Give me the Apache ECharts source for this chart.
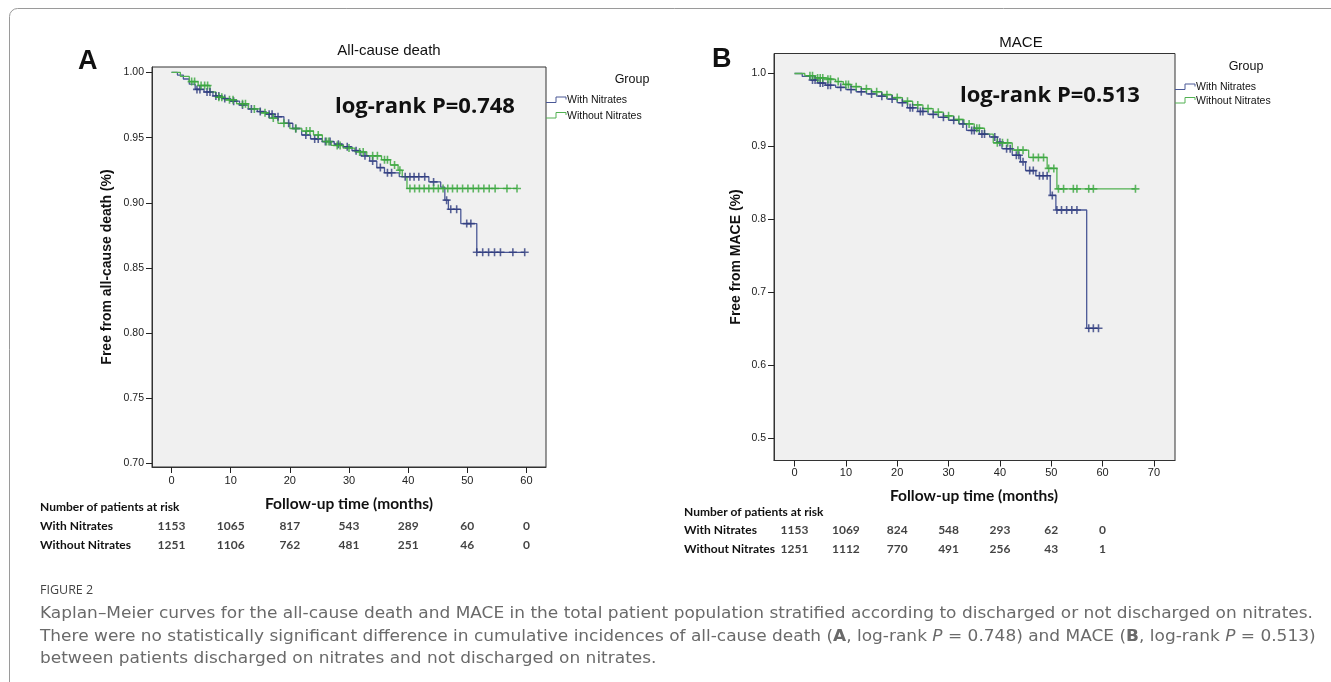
<!DOCTYPE html>
<html>
<head>
<meta charset="utf-8">
<script src="https://cdn.jsdelivr.net/npm/echarts@6/dist/echarts.min.js"></script>
<style>
html,body{margin:0;padding:0;background:#fff;}
#chart{width:1331px;height:682px;}
</style>
</head>
<body>
<div id="chart"></div>
<script>
// ---------- DATA ----------
const groups = ['With Nitrates', 'Without Nitrates'];
const xTicksA = [0, 10, 20, 30, 40, 50, 60];
const xTicksB = [0, 10, 20, 30, 40, 50, 60, 70];
const yTicksA = [0.70, 0.75, 0.80, 0.85, 0.90, 0.95, 1.00];
const yTicksB = [0.5, 0.6, 0.7, 0.8, 0.9, 1.0];
const riskTimes = [0, 10, 20, 30, 40, 50, 60];
const riskAWith = [1153, 1065, 817, 543, 289, 60, 0];
const riskAWithout = [1251, 1106, 762, 481, 251, 46, 0];
const riskBWith = [1153, 1069, 824, 548, 293, 62, 0];
const riskBWithout = [1251, 1112, 770, 491, 256, 43, 1];

// Panel A: all-cause death, [month, survival]
const aWithSteps = [[0,1.000],[1,0.998],[2,0.995],[3,0.991],[4,0.987],[5.5,0.985],[7,0.982],[8.5,0.980],[10,0.978],[11.5,0.975],[13,0.972],[14.5,0.970],[16,0.968],[17.5,0.966],[19,0.961],[20.5,0.957],[22,0.952],[23.5,0.949],[25.5,0.947],[27.5,0.945],[29,0.943],[30.5,0.940],[32,0.936],[33.5,0.932],[34.7,0.927],[36,0.923],[38.5,0.920],[43.5,0.916],[45.5,0.912],[46.2,0.902],[46.8,0.895],[48.9,0.884],[51.6,0.862],[59.7,0.862]];
const aWithCensor = [[4.3,0.987],[4.8,0.987],[6,0.985],[6.5,0.985],[7.5,0.982],[8,0.982],[9,0.980],[10.5,0.978],[12,0.975],[13.5,0.972],[15,0.970],[16.5,0.968],[17,0.968],[18,0.966],[19.8,0.961],[21,0.957],[22.7,0.952],[24.2,0.949],[24.8,0.949],[26,0.947],[26.8,0.947],[28.2,0.945],[29.7,0.943],[31.2,0.940],[32.7,0.936],[34,0.932],[35.3,0.927],[36.5,0.923],[37.2,0.923],[39.5,0.920],[40.3,0.920],[41,0.920],[41.8,0.920],[42.8,0.920],[44.3,0.916],[46.5,0.902],[47.2,0.895],[48.2,0.895],[49.9,0.884],[50.6,0.884],[51.6,0.862],[52.6,0.862],[53.6,0.862],[54.6,0.862],[55.6,0.862],[57.7,0.862],[59.7,0.862]];
const aWithoutSteps = [[0,1.000],[1.5,0.997],[3,0.993],[4.5,0.990],[6.5,0.985],[7.5,0.981],[9,0.979],[11,0.976],[13,0.972],[15,0.969],[16.5,0.965],[18,0.961],[20,0.957],[22,0.955],[24,0.952],[25.5,0.947],[27,0.944],[29,0.942],[31,0.939],[33,0.936],[35.5,0.933],[37,0.929],[38.3,0.925],[39,0.920],[39.8,0.911],[58.4,0.911]];
const aWithoutCensor = [[3.4,0.993],[3.9,0.993],[5,0.990],[5.6,0.990],[6.1,0.990],[8,0.981],[8.5,0.981],[9.8,0.979],[10.4,0.979],[12,0.976],[12.5,0.976],[14,0.972],[15.8,0.969],[17.2,0.965],[19,0.961],[21,0.957],[22.8,0.955],[23.4,0.955],[24.8,0.952],[26.2,0.947],[26.6,0.947],[28,0.944],[28.5,0.944],[30,0.942],[31.8,0.939],[32.4,0.939],[34,0.936],[34.8,0.936],[36,0.933],[36.5,0.933],[37.7,0.929],[38.6,0.925],[40.3,0.911],[41.1,0.911],[41.9,0.911],[42.7,0.911],[43.5,0.911],[44.3,0.911],[45.1,0.911],[45.9,0.911],[46.7,0.911],[47.5,0.911],[48.3,0.911],[49.2,0.911],[50.1,0.911],[51,0.911],[51.9,0.911],[52.8,0.911],[53.7,0.911],[54.7,0.911],[56.7,0.911],[58.4,0.911]];

// Panel B: MACE, [month, survival]
const bWithSteps = [[0,1.000],[1.5,0.996],[3,0.991],[4.5,0.987],[6,0.984],[8,0.981],[10,0.978],[12,0.975],[14,0.972],[16,0.969],[18,0.965],[20,0.960],[22,0.953],[24,0.948],[26,0.944],[28,0.940],[30,0.936],[32,0.931],[33.5,0.922],[36,0.917],[38,0.913],[39.5,0.906],[40.4,0.897],[42.4,0.888],[44,0.879],[45,0.867],[47,0.860],[49.8,0.833],[50.9,0.813],[56.9,0.651],[59.2,0.651]];
const bWithCensor = [[3.5,0.991],[4,0.991],[5,0.987],[5.5,0.987],[6.5,0.984],[7,0.984],[9,0.981],[11,0.978],[13,0.975],[15,0.972],[17,0.969],[19,0.965],[21,0.960],[22.5,0.953],[23,0.953],[24.5,0.948],[25,0.948],[27,0.944],[29,0.940],[31,0.936],[32.8,0.931],[34.5,0.922],[35,0.922],[36.5,0.917],[37,0.917],[39,0.913],[40,0.906],[41.3,0.897],[42,0.897],[43.2,0.888],[43.7,0.888],[44.5,0.879],[45.8,0.867],[46.5,0.867],[47.7,0.860],[48.4,0.860],[49.2,0.860],[50.2,0.833],[51.1,0.813],[52,0.813],[53,0.813],[54,0.813],[55,0.813],[57.3,0.651],[58.2,0.651],[59.2,0.651]];
const bWithoutSteps = [[0,1.000],[2,0.997],[4,0.994],[6,0.992],[8,0.989],[9.5,0.985],[11,0.982],[13,0.979],[15,0.975],[17,0.971],[19,0.967],[21,0.962],[23,0.957],[25,0.952],[27,0.947],[29,0.942],[31,0.937],[33,0.931],[35,0.925],[37,0.917],[38.7,0.905],[42.4,0.895],[45.6,0.885],[49.2,0.870],[51.1,0.842],[66.4,0.842]];
const bWithoutCensor = [[3,0.997],[3.5,0.997],[4.5,0.994],[5,0.994],[5.5,0.994],[6.5,0.992],[7,0.992],[8.5,0.989],[10,0.985],[10.5,0.985],[12,0.982],[14,0.979],[16,0.975],[18,0.971],[20,0.967],[22,0.962],[24,0.957],[26,0.952],[28,0.947],[30,0.942],[32,0.937],[34,0.931],[35.5,0.925],[36,0.925],[39.5,0.905],[40.5,0.905],[41.5,0.905],[43.5,0.895],[44.5,0.895],[46.5,0.885],[47.5,0.885],[48.5,0.885],[49.5,0.870],[50.5,0.870],[51.4,0.842],[52.4,0.842],[54.3,0.842],[55,0.842],[57.3,0.842],[58.2,0.842],[66.4,0.842]];

// ---------- STYLE ----------
const blueLine = '#4a5896', blueMark = '#2f3c7e';
const greenLine = '#52b152', greenMark = '#3aa63f';
const plus = 'path://M-0.2,-1H0.2V-0.2H1V0.2H0.2V1H-0.2V0.2H-1V-0.2H-0.2Z';
const arial = '"Liberation Sans", Arial, sans-serif';
const lato = 'Lato, "Open Sans", sans-serif';
const open = '"Open Sans", "Noto Sans", sans-serif';
const dejavu = '"DejaVu Sans", "Open Sans", sans-serif';

const gA = {left:152, top:67, width:394, height:400};
const gB = {left:774, top:53.5, width:401, height:407};

function valueX(grid, min, max, ticks, margin, show) {
  return {
    type:'value', gridIndex:grid, min:min, max:max,
    axisLine:{show:show, onZero:false, lineStyle:{color:'#333', width:1}},
    axisTick:{show:show, inside:false, length:6, lineStyle:{color:'#222'}, customValues:ticks},
    axisLabel:{show:show, customValues:ticks, margin:margin, color:'#222', fontSize:11, fontFamily:arial},
    splitLine:{show:false}
  };
}
function valueY(grid, min, max, ticks, dec) {
  return {
    type:'value', gridIndex:grid, min:min, max:max,
    axisLine:{show:true, onZero:false, lineStyle:{color:'#333', width:1}},
    axisTick:{show:true, inside:false, length:6, lineStyle:{color:'#222'}, customValues:ticks},
    axisLabel:{customValues:ticks, margin:8, color:'#222', fontSize:10.5, fontFamily:arial,
      formatter:function(v){return Number(v).toFixed(dec);}},
    splitLine:{show:false}
  };
}
function km(name, steps, censor, idx, lc, mc) {
  return [
    {type:'line', name:name, xAxisIndex:idx, yAxisIndex:idx, data:steps, step:'end',
     symbol:'none', showSymbol:false, lineStyle:{color:lc, width:1.3}, itemStyle:{color:lc}, z:2, silent:true},
    {type:'scatter', name:name, xAxisIndex:idx, yAxisIndex:idx, data:censor, symbol:plus,
     symbolSize:8, itemStyle:{color:mc}, z:3, silent:true}
  ];
}
function riskSeries(idx, withArr, withoutArr) {
  const d = [];
  riskTimes.forEach(function(t,i){ d.push([t, 0, withArr[i]]); });
  riskTimes.forEach(function(t,i){ d.push([t, 1, withoutArr[i]]); });
  return {type:'scatter', xAxisIndex:idx, yAxisIndex:idx, data:d, symbolSize:1,
    itemStyle:{color:'transparent'}, silent:true,
    label:{show:true, position:'inside', formatter:function(p){return String(p.value[2]);},
      color:'#111', fontFamily:lato, fontWeight:'bold', fontSize:12}};
}
function txt(x, y, text, font, opts) {
  opts = opts || {};
  return {type:'text', x:x, y:y, rotation:opts.rotation || 0, scaleX:opts.scaleX || 1, silent:true,
    style:{text:text, font:font, fill:opts.fill || '#111',
      align:opts.align || 'left', textAlign:opts.align || 'left',
      verticalAlign:'middle', textVerticalAlign:'middle', rich:opts.rich}};
}
function legendSym(x, y, color) {
  return {type:'polyline', silent:true,
    shape:{points:[[x,y+2],[x+10,y+2],[x+10,y-3.5],[x+20,y-3.5],[x+20,y-1]]},
    style:{stroke:color, lineWidth:1, fill:null}};
}

const capFont = '15.5px ' + dejavu;
const capFill = '#6a6a6a';
const capScale = 1.095;
const capRich = {
  b:{font:'bold 15.5px ' + dejavu, fill:capFill},
  i:{font:'italic 15.5px ' + dejavu, fill:capFill}
};

const option = {
  animation:false,
  backgroundColor:'#fff',
  grid:[
    {left:gA.left, top:gA.top, width:gA.width, height:gA.height, show:true, backgroundColor:'#f0f0f0', borderColor:'#333', borderWidth:1},
    {left:gB.left, top:gB.top, width:gB.width, height:gB.height, show:true, backgroundColor:'#f0f0f0', borderColor:'#333', borderWidth:1},
    {left:gA.left, top:517, width:gA.width, height:38},
    {left:gB.left, top:521, width:gB.width, height:38}
  ],
  xAxis:[
    valueX(0, -3.3, 63.3, xTicksA, 8, true),
    valueX(1, -4.0, 74.1, xTicksB, 7, true),
    valueX(2, -3.3, 63.3, xTicksA, 8, false),
    valueX(3, -4.0, 74.1, xTicksB, 7, false)
  ],
  yAxis:[
    valueY(0, 0.6972, 1.0042, yTicksA, 2),
    valueY(1, 0.4699, 1.0274, yTicksB, 1),
    {type:'category', gridIndex:2, data:groups, inverse:true, show:false},
    {type:'category', gridIndex:3, data:groups, inverse:true, show:false}
  ],
  series:[].concat(
    km(groups[0], aWithSteps, aWithCensor, 0, blueLine, blueMark),
    km(groups[1], aWithoutSteps, aWithoutCensor, 0, greenLine, greenMark),
    km(groups[0], bWithSteps, bWithCensor, 1, blueLine, blueMark),
    km(groups[1], bWithoutSteps, bWithoutCensor, 1, greenLine, greenMark),
    [riskSeries(2, riskAWith, riskAWithout), riskSeries(3, riskBWith, riskBWithout)]
  ),
  graphic:{elements:[
    {type:'rect', silent:true, shape:{x:9.5, y:8.5, width:1400, height:800, r:8}, style:{fill:null, stroke:'#9a9a9a', lineWidth:1}},
    // panel letters and titles
    txt(78, 62, 'A', 'bold 27px ' + arial),
    txt(712, 60, 'B', 'bold 27px ' + arial),
    txt(389, 51, 'All-cause death', '15px ' + arial, {align:'center'}),
    txt(1021, 43, 'MACE', '15px ' + arial, {align:'center'}),
    txt(335, 107, 'log-rank P=0.748', 'bold 22px ' + open),
    txt(960, 96, 'log-rank P=0.513', 'bold 22px ' + open),
    // axis names
    txt(107, 267, 'Free from all-cause death (%)', 'bold 14px ' + arial, {align:'center', rotation:Math.PI/2}),
    txt(736, 257, 'Free from MACE (%)', 'bold 14px ' + arial, {align:'center', rotation:Math.PI/2}),
    txt(349, 504, 'Follow-up time (months)', 'bold 15.5px ' + lato, {align:'center'}),
    txt(974, 496, 'Follow-up time (months)', 'bold 15.5px ' + lato, {align:'center'}),
    // legends
    txt(632, 80, 'Group', '12.5px ' + arial, {align:'center'}),
    legendSym(546, 100.5, blueLine), txt(567, 100.5, groups[0], '10.5px ' + arial),
    legendSym(546, 116, greenLine), txt(567, 116, groups[1], '10.5px ' + arial),
    txt(1246, 67, 'Group', '12.5px ' + arial, {align:'center'}),
    legendSym(1175, 87.5, blueLine), txt(1196, 87.5, groups[0], '10.5px ' + arial),
    legendSym(1175, 101, greenLine), txt(1196, 101, groups[1], '10.5px ' + arial),
    // risk table labels
    txt(40, 507.5, 'Number of patients at risk', 'bold 12px ' + lato),
    txt(40, 526.5, groups[0], 'bold 12px ' + lato),
    txt(40, 545.5, groups[1], 'bold 12px ' + lato),
    txt(684, 512, 'Number of patients at risk', 'bold 12px ' + lato),
    txt(684, 530.5, groups[0], 'bold 12px ' + lato),
    txt(684, 549.5, groups[1], 'bold 12px ' + lato),
    // caption
    txt(40, 590, 'FIGURE 2', '12.5px ' + open, {fill:'#444'}),
    txt(40, 614, 'Kaplan\u2013Meier curves for the all-cause death and MACE in the total patient population stratified according to discharged or not discharged on nitrates.', capFont, {fill:capFill, scaleX:capScale}),
    txt(40, 637, 'There were no statistically significant difference in cumulative incidences of all-cause death ({b|A}, log-rank {i|P} = 0.748) and MACE ({b|B}, log-rank {i|P} = 0.513)', capFont, {fill:capFill, rich:capRich, scaleX:capScale}),
    txt(40, 659, 'between patients discharged on nitrates and not discharged on nitrates.', capFont, {fill:capFill, scaleX:capScale})
  ]}
};

const chart = echarts.init(document.getElementById('chart'), null, {renderer:'canvas'});
chart.setOption(option);
</script>
</body>
</html>
